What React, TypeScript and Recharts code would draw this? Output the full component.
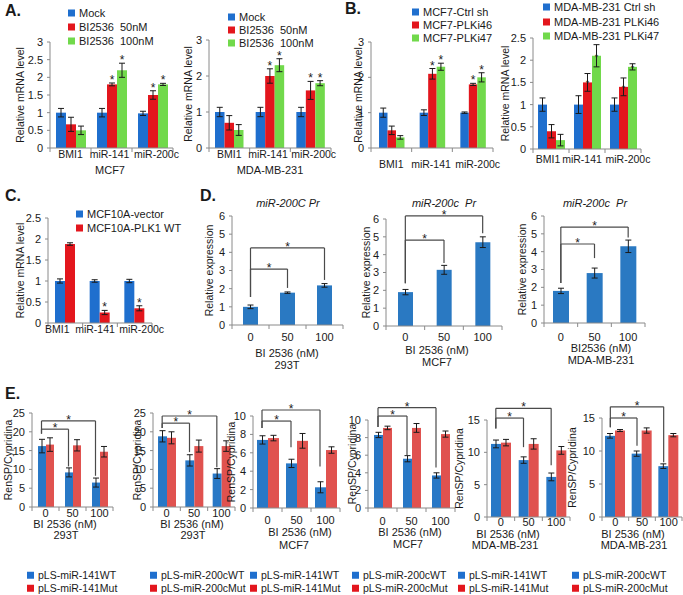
import React from 'react'
import { BarChart, Bar, XAxis, YAxis, ErrorBar, LabelList, ReferenceLine } from 'recharts'

const FONT = '"Liberation Sans", Arial, sans-serif'
const BLUE = '#1f6fce'
const RED = '#e3161d'
const GREEN = '#71d94b'
const D_BLUE = '#2a79c2'
const E_BLUE = '#2878c6'
const E_RED = '#e0524f'
const AXIS = '#8a8a8a'
const INK = '#1a1a1a'

const genes = ['BMI1', 'miR-141', 'miR-200c']
const doses = ['0', '50', '100']
const sigGenes = [false, true, true]

// A. BI2536 treatment
const aMcf7Mock = [1.0, 1.0, 0.98]
const aMcf7MockErr = [0.12, 0.12, 0.06]
const aMcf7Bi50 = [0.67, 1.8, 1.5]
const aMcf7Bi50Err = [0.2, 0.04, 0.12]
const aMcf7Bi100 = [0.5, 2.2, 1.8]
const aMcf7Bi100Err = [0.12, 0.2, 0.03]

const aMdaMock = [1.0, 1.0, 1.0]
const aMdaMockErr = [0.13, 0.13, 0.13]
const aMdaBi50 = [0.7, 2.0, 1.6]
const aMdaBi50Err = [0.2, 0.2, 0.25]
const aMdaBi100 = [0.5, 2.3, 1.8]
const aMdaBi100Err = [0.15, 0.18, 0.07]

// B. PLK1 knockdown
const bMcf7Ctrl = [1.0, 1.0, 1.0]
const bMcf7CtrlErr = [0.13, 0.08, 0.02]
const bMcf7Plk46 = [0.5, 2.1, 1.8]
const bMcf7Plk46Err = [0.12, 0.15, 0.03]
const bMcf7Plk47 = [0.3, 2.3, 2.0]
const bMcf7Plk47Err = [0.05, 0.1, 0.13]

const bMdaCtrl = [1.0, 1.0, 1.0]
const bMdaCtrlErr = [0.15, 0.2, 0.15]
const bMdaPlk46 = [0.4, 1.5, 1.4]
const bMdaPlk46Err = [0.15, 0.2, 0.2]
const bMdaPlk47 = [0.2, 2.1, 1.85]
const bMdaPlk47Err = [0.13, 0.25, 0.07]

// C. MCF10A
const cVector = [1.0, 1.0, 1.0]
const cVectorErr = [0.05, 0.03, 0.04]
const cPlk1 = [1.88, 0.25, 0.35]
const cPlk1Err = [0.03, 0.05, 0.06]

// D. promoter activity
const d293t = [1.0, 1.78, 2.18]
const d293tErr = [0.1, 0.04, 0.1]
const dMcf7 = [1.9, 3.15, 4.7]
const dMcf7Err = [0.15, 0.25, 0.3]
const dMda = [1.8, 2.8, 4.3]
const dMdaErr = [0.15, 0.28, 0.35]

// E. luciferase reporters
const e293t141Wt = [16.2, 9.2, 6.5]
const e293t141WtErr = [1.8, 1.2, 1.2]
const e293t141Mut = [16.6, 16.4, 14.7]
const e293t141MutErr = [1.8, 1.5, 1.4]
const e293t200Wt = [18.8, 12.4, 8.9]
const e293t200WtErr = [1.5, 1.5, 1.3]
const e293t200Mut = [18.4, 16.2, 16.2]
const e293t200MutErr = [1.6, 1.6, 1.4]
const eMcf7141Wt = [7.4, 4.85, 2.25]
const eMcf7141WtErr = [0.45, 0.45, 0.6]
const eMcf7141Mut = [7.6, 7.3, 6.3]
const eMcf7141MutErr = [0.3, 0.8, 0.35]
const eMcf7200Wt = [8.3, 5.6, 3.7]
const eMcf7200WtErr = [0.3, 0.35, 0.3]
const eMcf7200Mut = [9.1, 9.1, 8.4]
const eMcf7200MutErr = [0.2, 0.5, 0.35]
const eMda141Wt = [11.3, 8.8, 6.2]
const eMda141WtErr = [0.6, 0.5, 0.6]
const eMda141Mut = [11.5, 11.3, 10.3]
const eMda141MutErr = [0.5, 0.8, 0.6]
const eMda200Wt = [12.3, 9.6, 7.7]
const eMda200WtErr = [0.35, 0.4, 0.35]
const eMda200Mut = [13.1, 13.1, 12.4]
const eMda200MutErr = [0.15, 0.4, 0.25]

const ticks3 = [0, 0.5, 1, 1.5, 2, 2.5, 3]
const ticks3i = [0, 1, 2, 3]
const ticks25 = [0, 0.5, 1, 1.5, 2, 2.5]
const ticks6 = [0, 1, 2, 3, 4, 5, 6]
const ticksE25 = [0, 5, 10, 15, 20, 25]
const ticksE10 = [0, 2, 4, 6, 8, 10]
const ticksE15 = [0, 5, 10, 15]

type Ser = { vals: number[]; errs: number[]; color: string; sig?: boolean[] }
// bracket between category a and b: level = bar height, footA/footB = lower ends
type Bracket = { a: number; b: number; level: number; footA: number; footB: number }
type Spec = {
  x0: number; top: number; w: number; h: number
  cats: string[]; series: Ser[]; max: number; ticks: number[]
  barSize: number; yTitle: string; titleX: number; gap: number
  catFont?: number; labelDx?: number[]; starOnBar?: boolean
  brackets?: Bracket[]
}

function rows(cats: string[], series: Ser[]) {
  return cats.map((c, i) => {
    const r: Record<string, any> = { cat: c }
    series.forEach((s, j) => {
      r['v' + j] = s.vals[i]
      r['e' + j] = s.errs[i]
    })
    return r
  })
}

const star = (s: Ser, onBar: boolean) => (p: any) => {
  const i = p.index
  if (!s.sig || !s.sig[i]) return null
  const vb = p.viewBox ?? p
  const bx = Number(vb.x), by = Number(vb.y), bw = Number(vb.width), bh = Number(vb.height)
  if (onBar) {
    return <text x={bx + bw / 2} y={by + 4} textAnchor="middle" fontSize={9} fill={INK}>*</text>
  }
  const cap = by - (bh / s.vals[i]) * s.errs[i]
  return <text x={bx + bw / 2} y={cap + 1} textAnchor="middle" fontSize={12} fill={INK}>*</text>
}

const catTick = (dxs: number[] | undefined, size: number) => (p: any) => (
  <text x={Number(p.x) + (dxs?.[p.index] ?? 0)} y={p.y} dy="0.71em" textAnchor="middle"
    fontSize={size} fill={INK}>{p.payload.value}</text>
)

// short tick mark under the axis at a band edge
const edgeTick = (p: any) => {
  const y = Math.max(Number(p.y1), Number(p.y2))
  return <line x1={p.x1} x2={p.x1} y1={y} y2={y + 4} stroke={AXIS} strokeWidth={1} />
}

const bracketLine = (dx: number, mark: boolean) => (p: any) => {
  const x1 = Number(p.x1) + dx, x2 = Number(p.x2) + dx
  const y1 = Number(p.y1), y2 = Number(p.y2)
  return (
    <g>
      <line x1={x1} y1={y1} x2={x2} y2={y2} stroke="#4a4a4a" strokeWidth={1.2} />
      {mark && <text x={(x1 + x2) / 2} y={y1 + 3} textAnchor="middle" fontSize={12} fill={INK}>*</text>}
    </g>
  )
}

function Panel({ spec }: { spec: Spec }) {
  const { x0, top, w, h, cats, series, max, ticks, barSize, yTitle, titleX, gap } = spec
  const brackets = spec.brackets ?? []
  const mt = 34
  const mr = 20
  const xh = 30
  const left = titleX - 8
  const yw = x0 - left
  const width = yw + w + mr
  const height = mt + h + xh
  const data = rows(cats, series)
  // brackets start from the first bar of a group
  const dx = -((series.length - 1) * barSize) / 2
  const tx = 8
  const ty = mt + h / 2
  return (
    <div style={{ position: 'absolute', left, top: top - mt, width, height }}>
      <BarChart width={width} height={height} data={data} barGap={0}
        margin={{ top: mt, right: mr, bottom: 0, left: 0 }}>
        <XAxis dataKey="cat" axisLine={{ stroke: AXIS }} tickLine={false} tickSize={0}
          tickMargin={gap} interval={0} height={xh} tick={catTick(spec.labelDx, spec.catFont ?? 11)} />
        <YAxis domain={[0, max]} ticks={ticks} allowDataOverflow width={yw} tickSize={3} tickMargin={4}
          tick={{ fontSize: 11, fill: INK }} axisLine={{ stroke: AXIS }} tickLine={{ stroke: AXIS }}
          label={() => (
            <text x={tx} y={ty} transform={`rotate(-90 ${tx} ${ty})`} textAnchor="middle"
              dominantBaseline="central" fontSize={10.5} fill={INK}>{yTitle}</text>
          )} />
        {series.map((s, j) => (
          <Bar key={j} dataKey={'v' + j} fill={s.color} barSize={barSize} isAnimationActive={false}>
            <ErrorBar dataKey={'e' + j} width={3} stroke={INK} strokeWidth={1} />
            {s.sig && <LabelList dataKey={'v' + j} content={star(s, !!spec.starOnBar)} />}
          </Bar>
        ))}
        {cats.map((c) => (
          <ReferenceLine key={'t' + c} x={c} position="start" ifOverflow="visible" shape={edgeTick} />
        ))}
        <ReferenceLine x={cats[cats.length - 1]} position="end" ifOverflow="visible" shape={edgeTick} />
        {brackets.map((b, k) => {
          const ca = cats[b.a]
          const cb = cats[b.b]
          return [
            <ReferenceLine key={'l' + k} ifOverflow="visible" shape={bracketLine(dx, false)}
              segment={[{ x: ca, y: b.footA }, { x: ca, y: b.level }]} />,
            <ReferenceLine key={'m' + k} ifOverflow="visible" shape={bracketLine(dx, true)}
              segment={[{ x: ca, y: b.level }, { x: cb, y: b.level }]} />,
            <ReferenceLine key={'r' + k} ifOverflow="visible" shape={bracketLine(dx, false)}
              segment={[{ x: cb, y: b.level }, { x: cb, y: b.footB }]} />,
          ]
        })}
      </BarChart>
    </div>
  )
}

const specs: Spec[] = [
  {
    x0: 50, top: 42, w: 123, h: 106, cats: genes, max: 3, ticks: ticks3, barSize: 10,
    yTitle: 'Relative mRNA level', titleX: 20, gap: 3, catFont: 10.5, labelDx: [0, -2, 4],
    series: [
      { vals: aMcf7Mock, errs: aMcf7MockErr, color: BLUE },
      { vals: aMcf7Bi50, errs: aMcf7Bi50Err, color: RED, sig: sigGenes },
      { vals: aMcf7Bi100, errs: aMcf7Bi100Err, color: GREEN, sig: sigGenes },
    ],
  },
  {
    x0: 209, top: 40, w: 122, h: 108, cats: genes, max: 3, ticks: ticks3i, barSize: 9.5,
    yTitle: 'Relative mRNA level', titleX: 188, gap: 3, catFont: 10.5, labelDx: [0, -2, 3],
    series: [
      { vals: aMdaMock, errs: aMdaMockErr, color: BLUE },
      { vals: aMdaBi50, errs: aMdaBi50Err, color: RED, sig: sigGenes },
      { vals: aMdaBi100, errs: aMdaBi100Err, color: GREEN, sig: sigGenes },
    ],
  },
  {
    x0: 371, top: 42, w: 122, h: 106, cats: genes, max: 3, ticks: ticks3i, barSize: 8.5,
    yTitle: 'Relative mRNA level', titleX: 358, gap: 13, catFont: 10.5, labelDx: [0, -1, 5],
    series: [
      { vals: bMcf7Ctrl, errs: bMcf7CtrlErr, color: BLUE },
      { vals: bMcf7Plk46, errs: bMcf7Plk46Err, color: RED, sig: sigGenes },
      { vals: bMcf7Plk47, errs: bMcf7Plk47Err, color: GREEN, sig: sigGenes },
    ],
  },
  {
    x0: 533, top: 38, w: 108, h: 111, cats: genes, max: 2.5, ticks: ticks25, barSize: 9,
    yTitle: 'Relative mRNA level', titleX: 505, gap: 7, catFont: 10.5, labelDx: [-3, -5, 5],
    starOnBar: true,
    series: [
      { vals: bMdaCtrl, errs: bMdaCtrlErr, color: BLUE },
      { vals: bMdaPlk46, errs: bMdaPlk46Err, color: RED, sig: sigGenes },
      { vals: bMdaPlk47, errs: bMdaPlk47Err, color: GREEN, sig: sigGenes },
    ],
  },
  {
    x0: 48, top: 218, w: 104, h: 105, cats: genes, max: 2.5, ticks: ticks25, barSize: 10,
    yTitle: 'Relative mRNA level', titleX: 20, gap: 3, catFont: 10.5, labelDx: [-8, -5, 7],
    series: [
      { vals: cVector, errs: cVectorErr, color: BLUE },
      { vals: cPlk1, errs: cPlk1Err, color: RED, sig: sigGenes },
    ],
  },
  {
    x0: 232, top: 216, w: 111, h: 109, cats: doses, max: 6, ticks: ticks6, barSize: 15,
    yTitle: 'Relative expression', titleX: 209, gap: 8,
    series: [{ vals: d293t, errs: d293tErr, color: D_BLUE }],
    brackets: [
      { a: 0, b: 1, level: 3.08, footA: 1.54, footB: 2.04 },
      { a: 0, b: 2, level: 4.24, footA: 1.54, footB: 2.48 },
    ],
  },
  {
    x0: 386, top: 219, w: 116, h: 107, cats: doses, max: 6, ticks: ticks6, barSize: 15,
    yTitle: 'Relative expression', titleX: 366, gap: 7,
    series: [{ vals: dMcf7, errs: dMcf7Err, color: D_BLUE }],
    brackets: [
      { a: 0, b: 1, level: 4.82, footA: 2.4, footB: 3.53 },
      { a: 0, b: 2, level: 6.17, footA: 2.4, footB: 5.2 },
    ],
  },
  {
    x0: 544, top: 216, w: 101, h: 107, cats: doses, max: 6, ticks: ticks6, barSize: 16,
    yTitle: 'Relative expression', titleX: 522, gap: 10,
    series: [{ vals: dMda, errs: dMdaErr, color: D_BLUE }],
    brackets: [
      { a: 0, b: 1, level: 4.43, footA: 2.24, footB: 3.64 },
      { a: 0, b: 2, level: 5.38, footA: 2.24, footB: 4.8 },
    ],
  },
  {
    x0: 32, top: 413, w: 81, h: 94, cats: doses, max: 25, ticks: ticksE25, barSize: 8,
    yTitle: 'RenSP/Cypridina', titleX: 8, gap: 2,
    series: [
      { vals: e293t141Wt, errs: e293t141WtErr, color: E_BLUE },
      { vals: e293t141Mut, errs: e293t141MutErr, color: E_RED },
    ],
    brackets: [
      { a: 0, b: 1, level: 20.7, footA: 19.5, footB: 10.8 },
      { a: 0, b: 2, level: 22.9, footA: 19.5, footB: 8.3 },
    ],
  },
  {
    x0: 153, top: 413, w: 82, h: 94, cats: doses, max: 25, ticks: ticksE25, barSize: 9,
    yTitle: 'RenSP/Cypridina', titleX: 137, gap: 2,
    series: [
      { vals: e293t200Wt, errs: e293t200WtErr, color: E_BLUE },
      { vals: e293t200Mut, errs: e293t200MutErr, color: E_RED },
    ],
    brackets: [
      { a: 0, b: 1, level: 22.3, footA: 21, footB: 14.6 },
      { a: 0, b: 2, level: 24.2, footA: 21, footB: 10.6 },
    ],
  },
  {
    x0: 253, top: 416, w: 87, h: 92, cats: doses, max: 10, ticks: ticksE10, barSize: 11,
    yTitle: 'RenSP/Cypridina', titleX: 231, gap: 8,
    series: [
      { vals: eMcf7141Wt, errs: eMcf7141WtErr, color: E_BLUE },
      { vals: eMcf7141Mut, errs: eMcf7141MutErr, color: E_RED },
    ],
    brackets: [
      { a: 0, b: 1, level: 9.45, footA: 8.7, footB: 6.6 },
      { a: 0, b: 2, level: 10.65, footA: 8.7, footB: 4.5 },
    ],
  },
  {
    x0: 368, top: 420, w: 87, h: 88, cats: doses, max: 10, ticks: ticksE10, barSize: 9,
    yTitle: 'RenSP/Cypridina', titleX: 352, gap: 9,
    series: [
      { vals: eMcf7200Wt, errs: eMcf7200WtErr, color: E_BLUE },
      { vals: eMcf7200Mut, errs: eMcf7200MutErr, color: E_RED },
    ],
    brackets: [
      { a: 0, b: 1, level: 10.45, footA: 9.2, footB: 6.0 },
      { a: 0, b: 2, level: 11.4, footA: 9.2, footB: 4.6 },
    ],
  },
  {
    x0: 487, top: 420, w: 83, h: 97, cats: doses, max: 15, ticks: ticksE15, barSize: 10,
    yTitle: 'RenSP/Cypridina', titleX: 459, gap: 1,
    series: [
      { vals: eMda141Wt, errs: eMda141WtErr, color: E_BLUE },
      { vals: eMda141Mut, errs: eMda141MutErr, color: E_RED },
    ],
    brackets: [
      { a: 0, b: 1, level: 15.3, footA: 13.7, footB: 10.8 },
      { a: 0, b: 2, level: 16.8, footA: 13.7, footB: 8.0 },
    ],
  },
  {
    x0: 602, top: 418, w: 80, h: 99, cats: doses, max: 15, ticks: ticksE15, barSize: 10,
    yTitle: 'RenSP/Cypridina', titleX: 572, gap: 1,
    series: [
      { vals: eMda200Wt, errs: eMda200WtErr, color: E_BLUE },
      { vals: eMda200Mut, errs: eMda200MutErr, color: E_RED },
    ],
    brackets: [
      { a: 0, b: 1, level: 15.0, footA: 13.6, footB: 10.8 },
      { a: 0, b: 2, level: 16.7, footA: 13.6, footB: 8.3 },
    ],
  },
]

type Txt = { x: number; y: number; s: string; size?: number; bold?: boolean; italic?: boolean; start?: boolean }

const texts: Txt[] = [
  { x: 5, y: 11, s: 'A.', size: 16, bold: true, start: true },
  { x: 345, y: 9, s: 'B.', size: 16, bold: true, start: true },
  { x: 5, y: 196, s: 'C.', size: 16, bold: true, start: true },
  { x: 200, y: 196, s: 'D.', size: 16, bold: true, start: true },
  { x: 5, y: 394, s: 'E.', size: 16, bold: true, start: true },
  { x: 110, y: 170, s: 'MCF7' },
  { x: 270, y: 170, s: 'MDA-MB-231' },
  { x: 288, y: 203, s: 'miR-200C Pr', italic: true },
  { x: 444, y: 203, s: 'miR-200c  Pr', italic: true },
  { x: 595, y: 203, s: 'miR-200c  Pr', italic: true },
  { x: 287, y: 353, s: 'BI 2536 (nM)' },
  { x: 287, y: 365, s: '293T' },
  { x: 437, y: 350, s: 'BI 2536 (nM)' },
  { x: 437, y: 362, s: 'MCF7' },
  { x: 601, y: 348, s: 'BI2536 (nM)' },
  { x: 601, y: 360, s: 'MDA-MB-231' },
  { x: 65, y: 524, s: 'BI 2536 (nM)' },
  { x: 66, y: 535, s: '293T' },
  { x: 192, y: 524, s: 'BI 2536 (nM)' },
  { x: 193, y: 535, s: '293T' },
  { x: 300, y: 532, s: 'BI 2536 (nM)' },
  { x: 294, y: 545, s: 'MCF7' },
  { x: 410, y: 532, s: 'BI 2536 (nM)' },
  { x: 408, y: 544, s: 'MCF7' },
  { x: 508, y: 534, s: 'BI 2536 (nM)' },
  { x: 505, y: 545, s: 'MDA-MB-231' },
  { x: 633, y: 534, s: 'BI 2536 (nM)' },
  { x: 634, y: 545, s: 'MDA-MB-231' },
]

type Key = { x: number; y: number; color: string; s: string; size?: number }

const keys: Key[] = [
  { x: 68, y: 13, color: BLUE, s: 'Mock' },
  { x: 68, y: 27, color: RED, s: 'BI2536  50nM' },
  { x: 68, y: 41, color: GREEN, s: 'BI2536  100nM' },
  { x: 228, y: 17, color: BLUE, s: 'Mock' },
  { x: 228, y: 30, color: RED, s: 'BI2536  50nM' },
  { x: 228, y: 43, color: GREEN, s: 'BI2536  100nM' },
  { x: 412, y: 12, color: BLUE, s: 'MCF7-Ctrl sh' },
  { x: 412, y: 25, color: RED, s: 'MCF7-PLKi46' },
  { x: 412, y: 38, color: GREEN, s: 'MCF7-PLKi47' },
  { x: 543, y: 7, color: BLUE, s: 'MDA-MB-231 Ctrl sh' },
  { x: 543, y: 22, color: RED, s: 'MDA-MB-231 PLKi46' },
  { x: 543, y: 36, color: GREEN, s: 'MDA-MB-231 PLKi47' },
  { x: 76, y: 214, color: BLUE, s: 'MCF10A-vector' },
  { x: 76, y: 228, color: RED, s: 'MCF10A-PLK1 WT' },
]

const eKeyX = [27, 150, 250, 352, 458, 572]
eKeyX.forEach((x, i) => {
  const g = i % 2 === 0 ? '141' : '200c'
  keys.push({ x, y: 575, color: BLUE, s: `pLS-miR-${g}WT`, size: 10.5 })
  keys.push({ x, y: 588, color: RED, s: `pLS-miR-${g}Mut`, size: 10.5 })
})

export default function App() {
  return (
    <div style={{ position: 'absolute', left: 0, top: 0, width: 683, height: 595, overflow: 'hidden',
      background: '#fff', fontFamily: FONT, color: INK }}>
      {specs.map((s, i) => <Panel key={i} spec={s} />)}
      {texts.map((t, i) => (
        <div key={'t' + i} style={{ position: 'absolute', left: t.x, top: t.y, whiteSpace: 'pre',
          transform: t.start ? 'translateY(-50%)' : 'translate(-50%, -50%)', lineHeight: 1,
          fontSize: t.size ?? 11, fontWeight: t.bold ? 700 : 400, fontStyle: t.italic ? 'italic' : 'normal' }}>
          {t.s}
        </div>
      ))}
      {keys.map((k, i) => (
        <div key={'k' + i} style={{ position: 'absolute', left: k.x, top: k.y, transform: 'translateY(-50%)',
          display: 'flex', alignItems: 'center', whiteSpace: 'pre', fontSize: k.size ?? 11, lineHeight: 1 }}>
          <span style={{ width: 7, height: 7, background: k.color, marginRight: 4, display: 'inline-block' }} />
          {k.s}
        </div>
      ))}
    </div>
  )
}
